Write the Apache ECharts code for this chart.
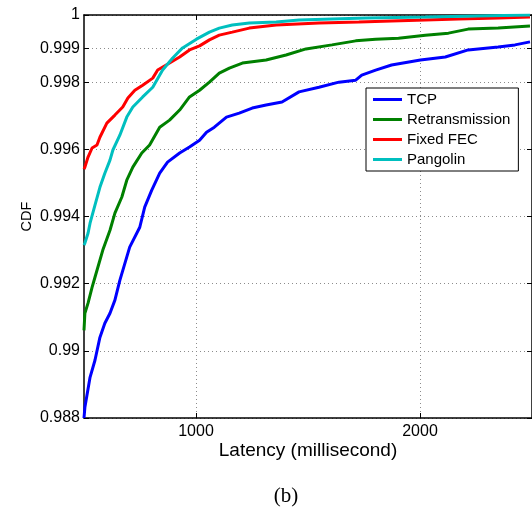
<!DOCTYPE html>
<html>
<head>
<meta charset="utf-8">
<script src="https://cdn.jsdelivr.net/npm/echarts@6/dist/echarts.min.js"></script>
<style>
  html, body { margin: 0; padding: 0; background: #fff; }
  #chart { width: 532px; height: 509px; }
</style>
</head>
<body>
<div id="chart"></div>
<script>
// CDF curves: [latency ms, CDF]
const tcp = [
  [500, 0.988], [504, 0.98832], [527, 0.98921], [549, 0.98972], [571, 0.9904],
  [593, 0.99082], [616, 0.99112], [638, 0.99151], [660, 0.9921], [704, 0.99309],
  [749, 0.99368], [771, 0.99428], [802, 0.99478], [838, 0.99529], [873, 0.99562],
  [927, 0.99589], [971, 0.99607], [1016, 0.99627], [1047, 0.99651], [1082, 0.99666],
  [1136, 0.99696], [1193, 0.99708], [1251, 0.99723], [1313, 0.99732], [1384, 0.99741],
  [1460, 0.99771], [1549, 0.99785], [1638, 0.998], [1713, 0.99806], [1740, 0.99821],
  [1802, 0.99836], [1873, 0.99851], [2002, 0.99866], [2113, 0.99875], [2215, 0.99896],
  [2349, 0.99905], [2424, 0.99911], [2491, 0.9992]
];
const retransmission = [
  [500, 0.99061], [504, 0.99112], [518, 0.99142], [536, 0.99189], [549, 0.99219],
  [584, 0.993], [616, 0.99359], [638, 0.9941], [669, 0.99458], [691, 0.99508],
  [718, 0.99547], [758, 0.99589], [793, 0.99613], [838, 0.99666], [882, 0.99687],
  [927, 0.99717], [971, 0.99756], [1016, 0.99776], [1060, 0.998], [1104, 0.99827],
  [1149, 0.99842], [1207, 0.99857], [1313, 0.99866], [1402, 0.99881], [1491, 0.99899],
  [1607, 0.99911], [1713, 0.99923], [1802, 0.99928], [1904, 0.99931], [2024, 0.9994],
  [2127, 0.99946], [2215, 0.99958], [2349, 0.99961], [2491, 0.99967]
];
const fixedFec = [
  [500, 0.99541], [504, 0.99547], [518, 0.99577], [536, 0.99604], [558, 0.99613],
  [571, 0.99636], [602, 0.99678], [638, 0.99702], [673, 0.99726], [696, 0.99753],
  [727, 0.99776], [762, 0.99791], [807, 0.99812], [829, 0.99836], [882, 0.99857],
  [927, 0.99875], [971, 0.99896], [1016, 0.99908], [1060, 0.99926], [1104, 0.9994],
  [1162, 0.99949], [1238, 0.99961], [1358, 0.9997], [1549, 0.99976], [1727, 0.99979],
  [1873, 0.99982], [2024, 0.99985], [2171, 0.99988], [2349, 0.99991], [2491, 0.99994]
];
const pangolin = [
  [500, 0.99315], [504, 0.99321], [518, 0.9935], [527, 0.9938], [549, 0.99434],
  [571, 0.99487], [593, 0.99529], [616, 0.99568], [629, 0.99598], [660, 0.99642],
  [691, 0.99696], [718, 0.99726], [762, 0.99756], [807, 0.99785], [851, 0.99836],
  [896, 0.99872], [940, 0.99902], [1002, 0.99928], [1060, 0.99949], [1104, 0.99961],
  [1162, 0.9997], [1238, 0.99976], [1358, 0.99979], [1460, 0.99985], [1607, 0.99988],
  [1758, 0.99991], [2024, 0.99994], [2491, 1.0]
];
const seriesNames = ['TCP', 'Retransmission', 'Fixed FEC', 'Pangolin'];
const seriesColors = ['#0000ff', '#008000', '#ff0000', '#00bfbf'];
const xTicks = [1000, 2000];
const yTicks = [0.988, 0.99, 0.992, 0.994, 0.996, 0.998, 0.999, 1];

const font = 'Liberation Sans, Arial, Helvetica, sans-serif';
const chart = echarts.init(document.getElementById('chart'));

const gridLine = { show: true, lineStyle: { color: '#8c8c8c', width: 1, type: [1, 3] } };
const frame = { show: true, onZero: false, lineStyle: { color: '#000', width: 1.5 } };

function yAxisDef(pos, labels) {
  return {
    type: 'value', position: pos, min: 0.988, max: 1,
    name: labels ? 'CDF' : '', nameLocation: 'middle', nameGap: 50,
    nameMoveOverlap: false,
    nameTextStyle: { fontFamily: font, fontSize: 14.5, color: '#000' },
    axisLine: frame,
    axisTick: { show: true, inside: true, length: 5, customValues: yTicks, lineStyle: { color: '#000' } },
    axisLabel: {
      show: labels, customValues: yTicks, margin: 4,
      fontFamily: font, fontSize: 16, color: '#000',
      formatter: v => String(+v.toFixed(3))
    },
    splitLine: labels ? gridLine : { show: false }
  };
}
function xAxisDef(pos, labels) {
  return {
    type: 'value', position: pos, min: 500, max: 2500,
    name: labels ? 'Latency (millisecond)' : '', nameLocation: 'middle', nameGap: 23,
    nameMoveOverlap: false,
    nameTextStyle: { fontFamily: font, fontSize: 19, color: '#000' },
    axisLine: frame,
    axisTick: { show: true, inside: true, length: 5, customValues: xTicks, lineStyle: { color: '#000' } },
    axisLabel: {
      show: labels, customValues: xTicks, margin: 6,
      fontFamily: font, fontSize: 16, color: '#000',
      formatter: v => String(v)
    },
    splitLine: labels ? gridLine : { show: false }
  };
}

const data = [tcp, retransmission, fixedFec, pangolin];

chart.setOption({
  animation: false,
  grid: { left: 84, top: 15, width: 449, height: 403 },
  xAxis: [xAxisDef('bottom', true), xAxisDef('top', false)],
  yAxis: [yAxisDef('left', true), yAxisDef('right', false)],
  legend: {
    orient: 'vertical', left: 366, top: 88,
    data: seriesNames,
    icon: 'rect', itemWidth: 29, itemHeight: 3, itemGap: 3,
    padding: [3, 8, 3, 7],
    borderColor: '#000', borderWidth: 1, backgroundColor: '#fff',
    textStyle: { fontFamily: font, fontSize: 15, color: '#000', lineHeight: 17 }
  },
  series: data.map((d, i) => ({
    name: seriesNames[i],
    type: 'line',
    data: d,
    showSymbol: false,
    color: seriesColors[i],
    lineStyle: { width: 3, color: seriesColors[i] }
  })),
  graphic: [{
    type: 'text', x: 286, y: 496,
    style: {
      text: '(b)', fontFamily: 'Liberation Serif, Times New Roman, serif',
      fontSize: 21, fill: '#000', align: 'center', verticalAlign: 'middle'
    }
  }]
});
</script>
</body>
</html>
